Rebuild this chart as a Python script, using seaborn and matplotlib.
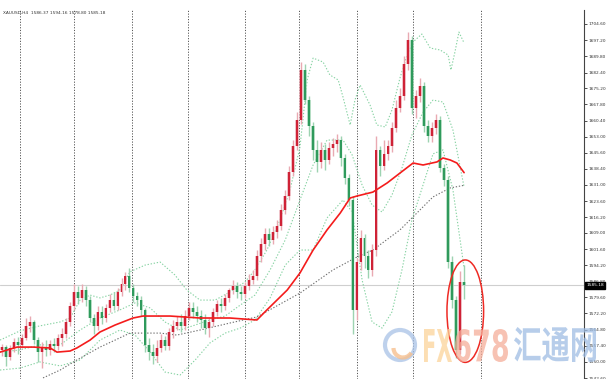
import numpy as np
import matplotlib
matplotlib.use("Agg")
import matplotlib.pyplot as plt
import matplotlib.transforms as mtransforms
from matplotlib.patches import Ellipse, Circle, Arc, PathPatch
from matplotlib.textpath import TextPath
from matplotlib.font_manager import FontProperties
import seaborn as sns

# ---------------- data (XAUUSD, H4) ----------------
symbol = "XAUUSD,H4"
open_ = [1555.5, 1556.8, 1552.3, 1556.4, 1559.1, 1557.8, 1561.0, 1566.5, 1568.3, 1560.0,
         1554.6, 1556.4, 1555.5, 1558.2, 1557.3, 1561.0, 1562.8, 1568.3, 1575.6, 1582.0,
         1579.3, 1582.9, 1578.3, 1570.1, 1566.5, 1572.9, 1570.1, 1574.7, 1578.3, 1575.6,
         1582.0, 1585.7, 1589.3, 1583.8, 1580.2, 1578.3, 1573.8, 1557.8, 1554.6, 1552.7,
         1556.4, 1560.0, 1557.3, 1563.7, 1566.5, 1568.3, 1566.5, 1571.0, 1574.7, 1572.9,
         1571.0, 1569.2, 1565.5, 1568.3, 1572.9, 1576.5, 1575.6, 1579.3, 1582.9, 1584.8,
         1582.0, 1581.1, 1584.8, 1587.5, 1589.3, 1598.5, 1604.0, 1608.5, 1605.8, 1609.5,
         1612.2, 1619.5, 1625.9, 1636.9, 1648.8, 1660.7, 1683.6, 1669.8, 1657.9, 1647.0,
         1641.5, 1647.0, 1642.4, 1647.9, 1649.7, 1651.5, 1643.3, 1634.2, 1624.1, 1573.8,
         1595.7, 1606.7, 1598.5, 1592.1, 1601.2, 1647.0, 1639.6, 1645.1, 1648.8, 1657.0,
         1666.2, 1671.7, 1686.3, 1697.3, 1666.2, 1671.7, 1676.2, 1657.9, 1653.4, 1657.0,
         1660.7, 1638.7, 1633.2, 1595.7, 1578.3, 1555.5, 1586.37]
high = [1558.2, 1557.8, 1557.8, 1561.0, 1561.4, 1562.8, 1570.1, 1571.0, 1569.2, 1561.4,
        1559.1, 1560.0, 1560.0, 1561.0, 1562.8, 1565.5, 1570.1, 1577.4, 1585.7, 1584.8,
        1585.7, 1584.8, 1580.2, 1571.9, 1575.6, 1575.6, 1576.5, 1581.1, 1582.0, 1583.8,
        1588.4, 1591.2, 1593.0, 1585.7, 1582.0, 1580.2, 1574.7, 1561.0, 1558.2, 1560.0,
        1562.8, 1561.9, 1565.5, 1569.2, 1571.0, 1571.9, 1573.8, 1577.4, 1577.4, 1575.6,
        1573.8, 1571.9, 1570.1, 1574.7, 1578.3, 1579.3, 1581.1, 1583.8, 1587.5, 1586.6,
        1584.8, 1586.6, 1590.2, 1592.1, 1601.2, 1606.7, 1611.3, 1611.3, 1612.2, 1614.9,
        1622.3, 1628.7, 1639.6, 1651.5, 1664.3, 1687.2, 1686.3, 1671.7, 1659.8, 1651.5,
        1650.6, 1649.7, 1650.6, 1652.5, 1654.3, 1653.4, 1645.1, 1636.0, 1625.9, 1597.6,
        1610.4, 1608.5, 1601.2, 1604.0, 1653.4, 1648.8, 1651.5, 1651.5, 1659.8, 1669.8,
        1675.3, 1690.0, 1700.9, 1699.1, 1674.4, 1679.9, 1678.1, 1660.7, 1659.8, 1663.4,
        1662.5, 1640.6, 1635.1, 1598.5, 1580.2, 1591.6, 1594.16]
low = [1552.7, 1548.2, 1550.9, 1554.6, 1553.6, 1556.4, 1560.0, 1563.7, 1558.2, 1550.0,
       1547.2, 1552.7, 1553.2, 1554.6, 1555.5, 1557.3, 1561.0, 1566.5, 1573.8, 1576.5,
       1577.4, 1575.6, 1568.3, 1562.8, 1564.6, 1567.4, 1568.3, 1572.9, 1573.8, 1573.8,
       1580.2, 1582.9, 1582.0, 1577.4, 1575.6, 1571.0, 1554.6, 1550.9, 1549.1, 1550.0,
       1554.6, 1555.5, 1555.5, 1561.0, 1564.6, 1563.7, 1564.6, 1569.2, 1570.1, 1568.3,
       1565.5, 1562.8, 1561.4, 1566.5, 1571.0, 1572.9, 1573.8, 1577.4, 1581.1, 1579.3,
       1578.3, 1579.3, 1582.9, 1585.7, 1587.5, 1595.7, 1601.2, 1603.0, 1604.0, 1606.7,
       1610.4, 1617.7, 1624.1, 1635.1, 1647.0, 1658.9, 1668.0, 1653.4, 1642.4, 1636.9,
       1638.7, 1637.8, 1640.6, 1644.2, 1646.1, 1639.6, 1631.4, 1621.3, 1562.8, 1569.2,
       1592.1, 1593.0, 1588.4, 1589.3, 1598.5, 1635.1, 1637.8, 1642.4, 1646.1, 1655.2,
       1664.3, 1669.8, 1683.6, 1663.4, 1661.6, 1668.9, 1655.2, 1650.6, 1650.6, 1654.3,
       1636.9, 1630.5, 1593.0, 1574.7, 1551.8, 1553.6, 1578.80]
close = [1556.8, 1552.3, 1556.4, 1559.1, 1557.8, 1561.0, 1566.5, 1568.3, 1560.0, 1554.6,
         1556.4, 1555.5, 1558.2, 1557.3, 1561.0, 1562.8, 1568.3, 1575.6, 1582.0, 1579.3,
         1582.9, 1578.3, 1570.1, 1566.5, 1572.9, 1570.1, 1574.7, 1578.3, 1575.6, 1582.0,
         1585.7, 1589.3, 1583.8, 1580.2, 1578.3, 1573.8, 1557.8, 1554.6, 1552.7, 1556.4,
         1560.0, 1557.3, 1563.7, 1566.5, 1568.3, 1566.5, 1571.0, 1574.7, 1572.9, 1571.0,
         1569.2, 1565.5, 1568.3, 1572.9, 1576.5, 1575.6, 1579.3, 1582.9, 1584.8, 1582.0,
         1581.1, 1584.8, 1587.5, 1589.3, 1598.5, 1604.0, 1608.5, 1605.8, 1609.5, 1612.2,
         1619.5, 1625.9, 1636.9, 1648.8, 1660.7, 1683.6, 1669.8, 1657.9, 1647.0, 1641.5,
         1647.0, 1642.4, 1647.9, 1649.7, 1651.5, 1643.3, 1634.2, 1624.1, 1573.8, 1595.7,
         1606.7, 1598.5, 1592.1, 1601.2, 1647.0, 1639.6, 1645.1, 1648.8, 1657.0, 1666.2,
         1671.7, 1686.3, 1697.3, 1666.2, 1671.7, 1676.2, 1657.9, 1653.4, 1657.0, 1660.7,
         1638.7, 1633.2, 1595.7, 1578.3, 1555.5, 1586.4, 1585.18]

# red moving average (bar index, price)
ma_red_x = [-0.5, 3.8, 7.8, 12.1, 13.8, 17.1, 18.8, 22.1, 24.6, 28.4, 32.9, 35.4, 42.2, 49.7,
            57.2, 64.0, 66.5, 71.6, 74.8, 78.1, 81.6, 84.9, 87.4, 89.1, 93.1, 96.7, 99.9,
            103.2, 105.7, 109.2, 110.7, 112.5, 114.2, 116.0]
ma_red_y = [1554.5, 1556.8, 1556.8, 1556.4, 1554.5, 1555.0, 1556.4, 1560.0, 1563.7, 1566.9,
            1570.1, 1571.0, 1571.0, 1570.1, 1570.1, 1569.2, 1573.8, 1582.9, 1590.7, 1601.2,
            1610.4, 1618.1, 1625.0, 1625.9, 1627.7, 1631.9, 1636.4, 1641.0, 1640.1, 1641.5,
            1643.3, 1642.4, 1641.0, 1636.6]
# long moving average (gray dotted)
ma_long_x = [10.3, 14.6, 18.8, 24.6, 28.4, 32.1, 39.7, 43.9, 49.7, 57.2, 64.0, 74.8, 83.1,
             89.1, 93.1, 99.9, 108.2, 112.5, 116.0]
ma_long_y = [1542.7, 1546.3, 1550.9, 1556.8, 1560.0, 1563.2, 1563.2, 1562.3, 1564.6, 1567.8,
             1570.6, 1581.5, 1592.1, 1598.0, 1601.2, 1610.4, 1625.5, 1629.6, 1630.8]
# Bollinger bands
bb_up_x = [-0.5, 4.5, 9.5, 14.6, 17.1, 19.6, 22.1, 24.6, 27.1, 29.6, 32.1, 35.9, 39.7, 43.4,
           46.4, 49.7, 53.5, 57.2, 61.0, 63.5, 66.5, 69.8, 72.3, 74.8, 76.6, 78.1, 80.6, 82.3,
           84.4, 85.6, 87.4, 88.6, 89.9, 92.4, 94.1, 96.2, 97.9, 99.9, 101.7, 103.2, 105.4,
           107.5, 110.0, 112.0, 112.7, 113.7, 114.7, 116.0]
bb_up_y = [1560.0, 1564.2, 1566.5, 1568.3, 1570.1, 1578.3, 1580.6, 1579.3, 1580.6, 1582.9,
           1591.2, 1594.3, 1595.7, 1589.8, 1582.9, 1578.3, 1578.3, 1582.0, 1586.6, 1592.1,
           1601.2, 1614.9, 1628.7, 1648.3, 1679.0, 1689.0, 1687.2, 1681.3, 1679.0, 1671.2,
           1658.4, 1669.8, 1676.7, 1667.5, 1658.4, 1657.5, 1665.3, 1679.9, 1690.4, 1696.4,
           1700.0, 1693.6, 1692.7, 1690.4, 1683.6, 1691.8, 1700.9, 1695.9]
bb_mid_x = [-0.5, 4.5, 9.5, 14.6, 19.6, 24.6, 29.6, 33.4, 37.2, 40.9, 44.7, 48.5, 52.2, 56.0,
            59.8, 63.5, 67.3, 71.1, 74.8, 78.1, 81.6, 85.6, 87.9, 90.4, 92.9, 95.4, 97.9,
            100.4, 102.9, 105.7, 108.2, 110.7, 113.2, 116.0]
bb_mid_y = [1554.5, 1555.5, 1557.8, 1557.8, 1564.6, 1570.1, 1573.8, 1577.0, 1574.7, 1568.3,
            1564.6, 1566.9, 1569.2, 1571.0, 1576.0, 1580.6, 1592.1, 1605.8, 1624.1, 1640.1,
            1651.5, 1651.5, 1644.7, 1630.9, 1621.8, 1618.6, 1626.4, 1638.7, 1653.8, 1664.3,
            1669.8, 1668.9, 1656.1, 1630.0]
bb_low_x = bb_mid_x
bb_low_y = [1546.3, 1547.2, 1550.0, 1548.2, 1550.9, 1560.0, 1564.6, 1562.3, 1554.5, 1545.4,
            1544.0, 1550.9, 1558.7, 1563.2, 1565.5, 1569.2, 1579.3, 1594.3, 1601.2, 1601.2,
            1615.9, 1624.1, 1618.6, 1587.5, 1568.3, 1565.5, 1572.9, 1592.1, 1614.9, 1631.0,
            1645.2, 1647.0, 1628.7, 1593.0]
# weekly period separators (bar index)
week_breaks = [4.5, 18.1, 32.6, 46.7, 61.0, 74.6, 89.1, 103.2, 120.3]
# right price scale
y_ticks = [1704.60, 1697.20, 1689.80, 1682.40, 1675.20, 1667.80, 1660.40, 1653.00, 1645.60,
           1638.40, 1631.00, 1623.60, 1616.20, 1609.00, 1601.60, 1594.20, 1586.80, 1579.60,
           1572.20, 1564.80, 1557.40, 1550.00, 1542.60]

# ---------------- drawing ----------------
sns.set_theme(style="white")
plt.rcParams["font.family"] = ["DejaVu Sans", "Noto Sans CJK SC"]

W, H = 608, 379
fig = plt.figure(figsize=(W / 100, H / 100), dpi=100)
fig.patch.set_facecolor("white")
ax = fig.add_axes([0, 0, 584 / W, 369 / H])
ax.set_facecolor("white")

o = np.array(open_); h = np.array(high); l = np.array(low); c = np.array(close)
n = len(c)
idx = np.arange(n)
up = c >= o
RED, GREEN = "#cf2236", "#2f9a5c"
RED_L, GREEN_L = "#e9a9b2", "#9dd3b1"

# period separators
for b in week_breaks:
    ax.axvline(b, color="#555555", lw=0.7, ls=(0, (1.2, 1.6)), zorder=1)

# current price line
ax.axhline(c[-1], color="#cfcfcf", lw=0.8, zorder=1)

# Bollinger bands
for bx, by in [(bb_up_x, bb_up_y), (bb_mid_x, bb_mid_y), (bb_low_x, bb_low_y)]:
    sns.lineplot(x=bx, y=by, ax=ax, color="#86d2a2", lw=0.8, ls=(0, (1.2, 1.6)),
                 estimator=None, sort=False, zorder=2)

# long MA
sns.lineplot(x=ma_long_x, y=ma_long_y, ax=ax, color="#6f6f6f", lw=0.8, ls=(0, (1.2, 1.6)),
             estimator=None, sort=False, zorder=2)

# candles
ax.vlines(idx, l, h, colors=np.where(up, RED_L, GREEN_L), lw=1.0, zorder=3)
body_lo = np.minimum(o, c)
body_h = np.maximum(np.abs(c - o), 0.6)
ax.bar(idx, body_h, bottom=body_lo, width=0.95, color=np.where(up, RED_L, GREEN_L),
       lw=0, zorder=3, alpha=0.7)
ax.bar(idx, body_h, bottom=body_lo, width=0.5, color=np.where(up, RED, GREEN),
       lw=0, zorder=4)

# red MA
sns.lineplot(x=ma_red_x, y=ma_red_y, ax=ax, color="#f41c1c", lw=1.2,
             estimator=None, sort=False, zorder=5)

# highlight ellipse around the last bars
e_lo = min(low[-3:]) - 2.0
e_hi = max(high[-3:]) + 2.5
ax.add_patch(Ellipse((n - 1 + 0.3, (e_lo + e_hi) / 2), width=9.2, height=e_hi - e_lo,
                     angle=0, fill=False, ec="#ee2a24", lw=1.1, zorder=6))

# axes styling
ax.set_xlim(-0.5, 146.1)
ax.set_ylim(1542.2, 1711.0)
ax.set_xticks([])
ax.yaxis.tick_right()
ax.set_yticks(y_ticks)
ax.set_yticklabels([f"{v:.2f}" for v in y_ticks])
ax.tick_params(axis="y", direction="out", length=2, width=0.6, colors="#333333",
               labelsize=3.1, pad=1.2)
for s in ["top", "left", "bottom"]:
    ax.spines[s].set_visible(False)
ax.spines["right"].set_color("#444444")
ax.spines["right"].set_linewidth(0.8)
ax.set_xlabel("")
ax.set_ylabel("")
if ax.get_legend():
    ax.get_legend().remove()

# last price label on scale
ax.text(1.004, c[-1], f"{c[-1]:.2f}", transform=ax.get_yaxis_transform(), ha="left",
        va="center", fontsize=3.1, color="white", zorder=10, clip_on=False,
        bbox=dict(boxstyle="square,pad=0.35", fc="black", ec="black"))

# chart header
fig.text(3 / W, 1 - 13 / H,
         f"{symbol}  {open_[-1]:.2f} {high[-1]:.2f} {low[-1]:.2f} {close[-1]:.2f}",
         fontsize=3.1, color="#333333", va="center", ha="left")

# watermark (FX678 汇通网)
def boxed_text(txt, x0, x1, ytop, ybot, color, alpha, family, weight="bold"):
    tp = TextPath((0, 0), txt, size=1, prop=FontProperties(family=family, weight=weight))
    ext = tp.get_extents()
    sx = (x1 - x0) / ext.width
    sy = (ybot - ytop) / ext.height
    tr = (mtransforms.Affine2D().translate(-ext.x0, -ext.y0).scale(sx, sy)
          .translate(x0, H - ybot))
    fig.add_artist(PathPatch(tp, transform=tr, fc=color, ec="none", alpha=alpha, zorder=20))

boxed_text("FX", 424, 452, 329, 362, "#fbd49a", 0.75, "DejaVu Sans")
boxed_text("678", 455, 508, 329, 362, "#f5ae9a", 0.75, "DejaVu Sans")
boxed_text("汇通网", 514, 596, 327, 362, "#9fbde3", 0.75, "Noto Sans CJK SC")

disp = mtransforms.IdentityTransform()
fig.add_artist(Circle((400, H - 345), 15, transform=disp, fill=False, ec="#a9c2e6",
                      lw=3.0, alpha=0.75, zorder=20))
fig.add_artist(Arc((403, H - 348), 19, 19, theta1=180, theta2=330, transform=disp,
                   ec="#f7c08f", lw=3.0, alpha=0.8, zorder=21))

fig.savefig("out.png", dpi=100, facecolor="white")
